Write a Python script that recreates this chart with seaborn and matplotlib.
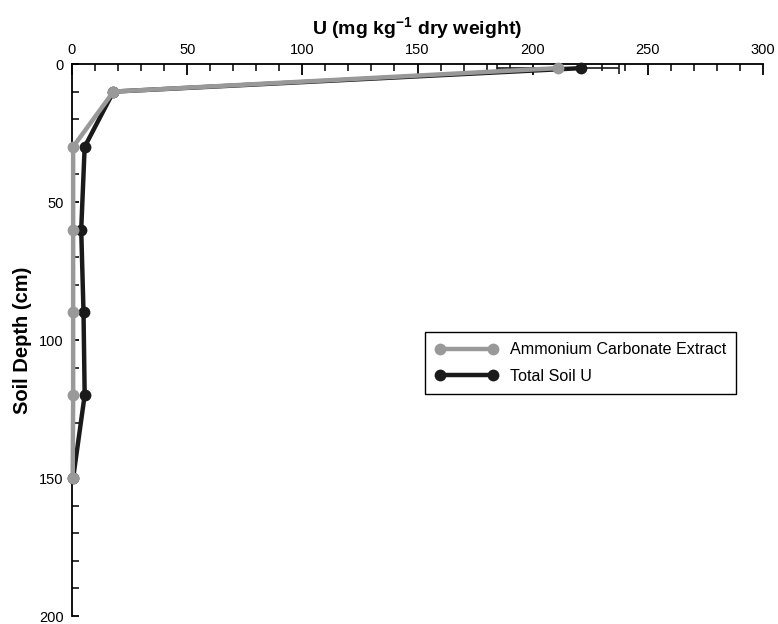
import numpy as np
import pandas as pd
import matplotlib
matplotlib.use("Agg")
import matplotlib.pyplot as plt
import seaborn as sns
from matplotlib.ticker import MultipleLocator
from matplotlib.lines import Line2D

# ---- data ----
depth_cm = [1.5, 10, 30, 60, 90, 120, 150]
ammonium_u = [211, 18, 0.5, 0.5, 0.5, 0.5, 0.3]
total_u = [221, 18, 5.5, 4.0, 5.0, 5.5, 0.5]
surface_err = [26.5]          # +/- error of the surface sample
series_names = ["Ammonium Carbonate Extract", "Total Soil U"]
x_ticks = [0, 50, 100, 150, 200, 250, 300]
y_ticks = [0, 50, 100, 150, 200]

GRAY = "#999999"
BLACK = "#1a1a1a"

sns.set_theme(style="ticks")
plt.rcParams["font.family"] = ["Liberation Sans", "DejaVu Sans"]
plt.rcParams["mathtext.fontset"] = "custom"
plt.rcParams["mathtext.rm"] = "Liberation Sans"
plt.rcParams["mathtext.bf"] = "Liberation Sans:bold"
plt.rcParams["text.color"] = "black"
plt.rcParams["axes.labelcolor"] = "black"
plt.rcParams["xtick.color"] = "black"
plt.rcParams["ytick.color"] = "black"

df = pd.DataFrame({
    "depth": depth_cm * 2,
    "U": ammonium_u + total_u,
    "series": [series_names[0]] * len(depth_cm) + [series_names[1]] * len(depth_cm),
})

fig = plt.figure(figsize=(7.78, 6.24), dpi=100)
L, R, T, B = 72, 763, 64, 616
ax = fig.add_axes([L / 778, 1 - B / 624, (R - L) / 778, (B - T) / 624])

# error bar on the surface sample
ax.errorbar([ammonium_u[0]], [depth_cm[0]], xerr=surface_err, fmt="none",
            ecolor=BLACK, elinewidth=1.2, capsize=4, capthick=1.2, zorder=2)

for name, color, z in [(series_names[1], BLACK, 3), (series_names[0], GRAY, 4)]:
    sub = df[df["series"] == name]
    sns.lineplot(data=sub, x="U", y="depth", sort=False, estimator=None,
                 color=color, lw=3.2, marker="o", markersize=8.5,
                 markeredgewidth=0, ax=ax, zorder=z, clip_on=False,
                 legend=False)

ax.set_xlim(0, 300)
ax.set_ylim(200, 0)
ax.set_xticks(x_ticks)
ax.set_yticks(y_ticks)
ax.xaxis.set_minor_locator(MultipleLocator(10))
ax.yaxis.set_minor_locator(MultipleLocator(10))
ax.xaxis.tick_top()
ax.xaxis.set_label_position("top")
for s in ["bottom", "right"]:
    ax.spines[s].set_visible(False)
for s in ["top", "left"]:
    ax.spines[s].set_color("black")
    ax.spines[s].set_linewidth(1.3)
ax.tick_params(axis="x", which="major", direction="in", length=8, width=1.3,
               color="black", labelcolor="black", labelsize=10.5, pad=5,
               top=True, bottom=False)
ax.tick_params(axis="x", which="minor", direction="in", length=5, width=1.1,
               color="black", top=True, bottom=False)
ax.tick_params(axis="y", which="major", direction="in", length=5, width=1.3,
               color="black", labelcolor="black", labelsize=10.5, pad=6)
ax.tick_params(axis="y", which="minor", direction="in", length=5, width=1.1,
               color="black")

ax.set_xlabel(r"U (mg kg$^{\mathbf{-1}}$ dry weight)", fontsize=14,
              fontweight="bold", labelpad=6, color="black")
ax.set_ylabel("Soil Depth (cm)", fontsize=14.5, fontweight="bold",
              labelpad=5, color="black")

handles = [Line2D([], [], color=GRAY, lw=3.2, marker="o", markersize=8.5,
                  markeredgewidth=0),
           Line2D([], [], color=BLACK, lw=3.2, marker="o", markersize=8.5,
                  markeredgewidth=0)]
leg = ax.legend(handles, series_names, loc="upper left",
                bbox_to_anchor=(425 / 778, 1 - 332 / 624),
                bbox_transform=fig.transFigure, fontsize=11.6, numpoints=2,
                handlelength=3.9, handletextpad=0.7, labelspacing=0.7,
                borderpad=0.65, borderaxespad=0, frameon=True, fancybox=False,
                edgecolor="black", framealpha=1)
leg.get_frame().set_linewidth(1.0)
for t in leg.get_texts():
    t.set_color("black")

fig.savefig("out.png", dpi=100)
